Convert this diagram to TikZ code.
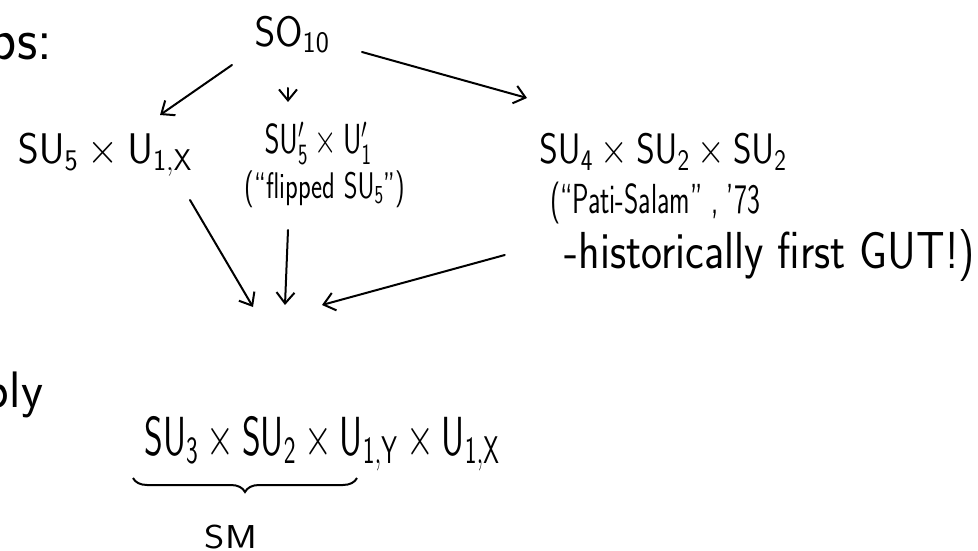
\RequirePackage{fix-cm}
\documentclass[tikz,border=0pt]{standalone}
\usetikzlibrary{arrows.meta,decorations.pathreplacing}
\newcommand\fitwh[3]{\resizebox*{#1pt}{#2pt}{#3}}
\begin{document}
\begin{tikzpicture}[x=1pt,y=-1pt,
  txt/.style={inner sep=0pt,font=\fontsize{30}{36}\selectfont\sffamily},
  arr/.style={-{Straight Barb[length=11pt,width=18pt,line width=2pt]},line width=2pt,line cap=round}]
\clip (0,0) rectangle (978,551);
\fill[white] (0,0) rectangle (978,551);
\node[txt] (frag1) at (21,52) {\fitwh{62}{38}{ps:}};
\node[txt] (frag2) at (14,395) {\fitwh{58}{46}{ply}};
\node[txt] (so) at (292,35) {\fitwh{75}{36}{$\mathsf{SO_{10}}$}};
\node[txt] (su5) at (105,155) {\fitwh{174}{42}{$\mathsf{SU_5\times U_{1,X}}$}};
\node[txt] (flip) at (318,143) {\fitwh{107}{42}{$\mathsf{SU_5'\times U_1'}$}};
\node[txt] (flipnote) at (325,189) {\fitwh{160}{37}{(``flipped $\mathsf{SU_5}$'')}};
\node[txt] (ps) at (663,152) {\fitwh{247}{36}{$\mathsf{SU_4\times SU_2\times SU_2}$}};
\node[txt] (psnote1) at (655,203) {\fitwh{210}{42}{(``Pati-Salam'' , '73}};
\node[txt] (psnote2) at (770,256) {\fitwh{410}{52}{-historically first GUT!)}};
\node[txt] (sm) at (322,444) {\fitwh{355}{54}{$\mathsf{SU_3\times SU_2\times U_{1,Y}\times U_{1,X}}$}};
\node[txt] (smlabel) at (231,537) {\fitwh{52}{24}{SM}};
\draw[line width=2pt,decorate,decoration={brace,mirror,amplitude=14pt}] ([shift={(-189,34)}]sm.center) -- ([shift={(35,34)}]sm.center);
\draw[arr] ([shift={(-60,30)}]so.center) -- ([shift={(55,-40)}]su5.center);
\draw[arr] ([shift={(-4,53)}]so.center) -- ([shift={(-30,-41)}]flip.center);
\draw[arr] ([shift={(70,17)}]so.center) -- ([shift={(-136,-54)}]ps.center);
\draw[arr] ([shift={(85,45)}]su5.center) -- ([shift={(-69,-137)}]sm.center);
\draw[arr] ([shift={(-37,41)}]flipnote.center) -- ([shift={(-37,-139)}]sm.center);
\draw[arr] ([shift={(-60,-1)}]psnote2.west) -- ([shift={(0,-139)}]sm.center);
\end{tikzpicture}
\end{document}
